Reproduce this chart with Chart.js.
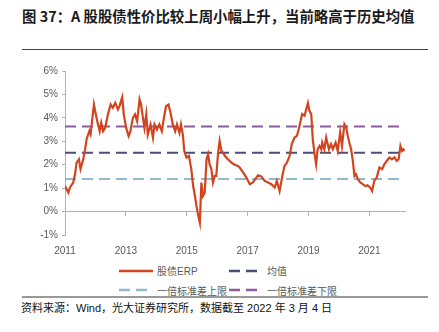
<!DOCTYPE html>
<html>
<head>
<meta charset="utf-8">
<script src="https://cdn.jsdelivr.net/npm/chart.js@4/dist/chart.umd.min.js"></script>
<style>
  body { margin: 0; width: 439px; height: 332px; background: #fff; position: relative; overflow: hidden;
         font-family: "Liberation Sans", "Noto Sans CJK SC", sans-serif; }
  #title { position: absolute; left: 22px; top: 5px; font-size: 14.4px; font-weight: bold; color: #1a1a1a;
           font-family: "Noto Sans CJK SC", sans-serif; white-space: nowrap; }
  #topRule { position: absolute; left: 22px; top: 49px; width: 406px; height: 1px; background: #444; }
  #wrap { position: absolute; left: 0; top: 60px; width: 439px; height: 196px; }
  #legend { position: absolute; left: 119px; top: 261px; display: grid;
            grid-template-columns: 110px auto; grid-auto-rows: 19.5px; font-size: 10px; color: #595959; }
  .item { display: flex; align-items: center; white-space: nowrap; }
  .item svg { margin-right: 4px; }
  #botRule { position: absolute; left: 22px; top: 296px; width: 406px; height: 2px; background: #999; }
  #source { position: absolute; left: 21px; top: 299px; font-size: 11px; color: #111; white-space: nowrap; }
</style>
</head>
<body>
<div id="title">图 37：A 股股债性价比较上周小幅上升，当前略高于历史均值</div>
<div id="topRule"></div>
<div id="wrap"><canvas id="erpChart"></canvas></div>
<div id="legend"></div>
<div id="botRule"></div>
<div id="source">资料来源：Wind，光大证券研究所，数据截至 2022 年 3 月 4 日</div>
<script>
// ---------------- Data ----------------
const years = [
  // 2011
  2011.00, 2011.11, 2011.16, 2011.27, 2011.33, 2011.38, 2011.46, 2011.51, 2011.60, 2011.66,
  2011.71, 2011.80, 2011.84, 2011.91,
  // 2012 - 2014
  2011.95, 2011.99, 2012.06, 2012.14, 2012.19, 2012.25, 2012.32, 2012.41, 2012.50, 2012.57,
  2012.65, 2012.74, 2012.79, 2012.88, 2012.93, 2013.01, 2013.09, 2013.15, 2013.23, 2013.30,
  2013.37, 2013.45, 2013.50, 2013.56, 2013.61, 2013.67, 2013.72, 2013.81, 2013.89, 2013.94,
  2014.02, 2014.10, 2014.18, 2014.25, 2014.32, 2014.40, 2014.47, 2014.54, 2014.62, 2014.68,
  2014.76, 2014.81, 2014.87, 2014.92,
  // 2015 - 2018
  2014.99, 2015.07, 2015.15, 2015.21, 2015.26, 2015.32, 2015.37, 2015.43, 2015.48, 2015.53,
  2015.59, 2015.65, 2015.70, 2015.75, 2015.81, 2015.86, 2015.92, 2015.97, 2016.03, 2016.08,
  2016.14, 2016.19, 2016.25, 2016.35, 2016.47, 2016.57, 2016.68, 2016.74, 2016.85, 2016.96,
  2017.07, 2017.17, 2017.34, 2017.45, 2017.56, 2017.67, 2017.78, 2017.89, 2017.96, 2018.05,
  2018.14, 2018.21, 2018.29, 2018.38, 2018.45, 2018.54, 2018.62, 2018.68,
  // 2019 - 2022
  2018.79, 2018.87, 2018.94, 2018.98, 2019.03, 2019.09, 2019.14, 2019.20, 2019.25, 2019.30,
  2019.36, 2019.42, 2019.45, 2019.52, 2019.58, 2019.67, 2019.74, 2019.80, 2019.89, 2019.96,
  2020.04, 2020.10, 2020.18, 2020.24, 2020.29, 2020.34, 2020.40, 2020.45, 2020.51, 2020.56,
  2020.62, 2020.70, 2020.78, 2020.87, 2020.94, 2021.02, 2021.09, 2021.16, 2021.24, 2021.33,
  2021.42, 2021.49, 2021.57, 2021.66, 2021.74, 2021.82, 2021.90, 2021.96, 2022.02, 2022.07,
  2022.11, 2022.16
];
const erp = [
  // 2011
  1.09, 0.81, 1.02, 1.24, 1.60, 2.09, 2.23, 1.81, 2.23, 2.66,
  3.09, 3.44, 3.30, 4.09,
  // 2012 - 2014
  4.57, 4.29, 3.86, 3.43, 3.79, 3.43, 3.57, 4.15, 4.57, 4.43,
  4.64, 4.36, 4.50, 4.88, 4.15, 3.57, 3.22, 3.43, 4.00, 4.15,
  3.86, 4.79, 4.57, 4.00, 3.57, 4.15, 3.29, 3.72, 3.15, 3.72,
  3.50, 3.72, 3.43, 4.00, 4.50, 4.57, 4.21, 3.72, 3.43, 3.72,
  3.36, 3.72, 3.29, 2.58,
  // 2015 - 2018
  2.31, 2.38, 1.81, 1.09, 0.74, 0.24, -0.12, -0.47, 1.24, 0.67,
  0.81, 2.23, 2.45, 2.02, 1.81, 1.24, 1.52, 1.52, 2.52, 3.02,
  2.59, 2.52, 2.38, 2.23, 2.09, 2.00, 1.95, 1.88, 1.67, 1.45,
  1.17, 1.24, 1.55, 1.50, 1.31, 1.24, 1.17, 1.03, 1.31, 0.88,
  1.52, 1.95, 2.09, 2.38, 2.88, 3.16, 3.23, 3.52,
  // 2019 - 2022
  4.16, 4.09, 4.44, 4.63, 4.30, 4.16, 3.09, 2.45, 2.02, 2.66,
  2.80, 2.66, 2.95, 2.66, 3.16, 2.66, 2.88, 2.66, 2.95, 2.59,
  3.38, 2.80, 3.73, 3.59, 3.23, 2.95, 2.66, 2.23, 1.52, 1.59,
  1.38, 1.24, 1.17, 1.09, 1.12, 1.03, 0.88, 1.31, 1.45, 1.88,
  1.81, 2.02, 2.16, 2.31, 2.23, 2.31, 2.16, 2.23, 2.80, 2.59,
  2.66, 2.59
];
const meanValue = 2.51;
const bandLow = 1.39;   // labelled 一倍标准差上限 in the source
const bandHigh = 3.63;  // labelled 一倍标准差下限 in the source
const yearTicks = [2011, 2013, 2015, 2017, 2019, 2021];
const labels = ["股债ERP", "均值", "一倍标准差上限", "一倍标准差下限"];

const xMin = 2011, xMax = 2022.17;
const tickColor = "#595959";
const axisColor = "#b3b3b3";
const font = { family: '"Liberation Sans", "Noto Sans CJK SC", sans-serif', size: 10 };

function flat(v) {
  return [{ x: years[0], y: v }, { x: years[years.length - 1], y: v }];
}
function setYearTicks(scale) {
  scale.ticks = yearTicks.map(v => ({ value: v }));
}

const datasets = [
  { label: labels[0], data: years.map((t, i) => ({ x: t, y: erp[i] })),
    borderColor: "#d2441f", borderWidth: 2.2, pointRadius: 0, tension: 0, order: 0 },
  { label: labels[1], data: flat(meanValue), borderColor: "#4b4e7a", borderWidth: 2,
    borderDash: [11, 6], pointRadius: 0, order: 1 },
  { label: labels[2], data: flat(bandLow), borderColor: "#93b9cf", borderWidth: 2,
    borderDash: [11, 6], pointRadius: 0, order: 2 },
  { label: labels[3], data: flat(bandHigh), borderColor: "#8d5c9c", borderWidth: 2,
    borderDash: [11, 6], pointRadius: 0, order: 3 }
];

const chart = new Chart(document.getElementById("erpChart"), {
  type: "line",
  data: { datasets },
  options: {
    responsive: true,
    maintainAspectRatio: false,
    animation: false,
    layout: { padding: { top: 11, right: 34, left: 0, bottom: 0 } },
    plugins: { legend: { display: false }, tooltip: { enabled: false } },
    scales: {
      x: {
        type: "linear", min: xMin, max: xMax,
        afterBuildTicks: setYearTicks,
        grid: { display: false }, border: { display: false },
        ticks: { color: tickColor, font, padding: 2, maxRotation: 0, callback: v => String(v) },
        afterFit: s => { s.height = 21; }
      },
      x0: {
        type: "linear", position: { y: 0 }, min: xMin, max: xMax,
        afterBuildTicks: setYearTicks,
        grid: { drawOnChartArea: false, drawTicks: true, tickLength: 4, color: axisColor },
        border: { color: axisColor },
        ticks: { display: false }
      },
      y: {
        min: -1, max: 6,
        ticks: { stepSize: 1, color: tickColor, font, padding: 4, callback: v => v + "%" },
        grid: { drawOnChartArea: false, tickLength: 3, color: axisColor },
        border: { color: axisColor },
        afterFit: s => { s.width = 65; }
      }
    }
  }
});

// ---------------- Legend (2 x 2, built from the datasets) ----------------
const legendEl = document.getElementById("legend");
chart.data.datasets.forEach(ds => {
  const item = document.createElement("div");
  item.className = "item";
  const dash = ds.borderDash ? ds.borderDash.join(" ") : "none";
  item.innerHTML =
    `<svg width="34" height="6"><line x1="0" y1="3" x2="34" y2="3" stroke="${ds.borderColor}" ` +
    `stroke-width="2.4" stroke-dasharray="${dash}"/></svg><span>${ds.label}</span>`;
  legendEl.appendChild(item);
});
</script>
</body>
</html>
